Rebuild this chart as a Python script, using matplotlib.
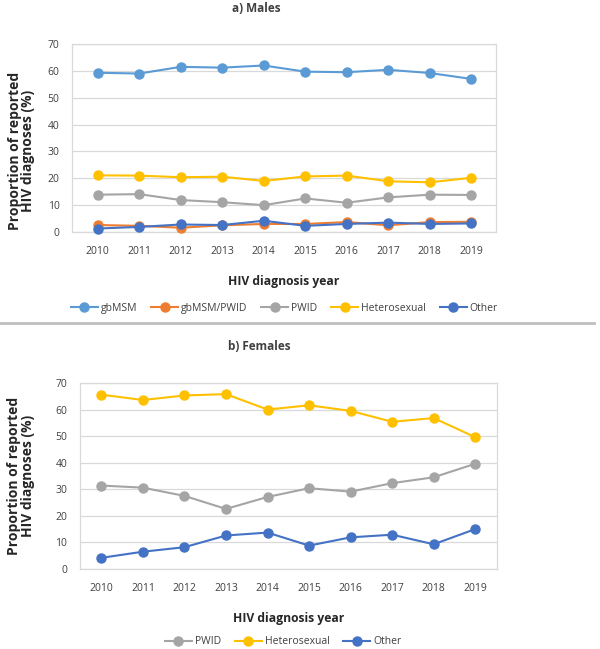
import matplotlib.pyplot as plt
from matplotlib.lines import Line2D

plt.rcParams['font.family'] = ['Open Sans', 'DejaVu Sans']

years = ['2010', '2011', '2012', '2013', '2014', '2015', '2016', '2017', '2018', '2019']

# a) Males
m_gbmsm = [59.3, 59.0, 61.5, 61.2, 62.0, 59.7, 59.5, 60.4, 59.2, 57.0]
m_gbmsm_pwid = [2.6, 2.3, 1.6, 2.5, 3.0, 3.0, 3.7, 2.5, 3.7, 3.8]
m_pwid = [13.9, 14.1, 11.9, 11.1, 10.0, 12.5, 10.9, 12.9, 13.9, 13.8]
m_hetero = [21.1, 21.0, 20.4, 20.6, 19.0, 20.7, 21.0, 18.9, 18.5, 20.2]
m_other = [1.3, 1.9, 2.8, 2.6, 4.2, 2.3, 3.0, 3.5, 3.0, 3.2]

# b) Females
f_pwid = [31.4, 30.6, 27.5, 22.6, 27.1, 30.4, 29.1, 32.3, 34.5, 39.6]
f_hetero = [65.6, 63.6, 65.3, 65.8, 60.0, 61.6, 59.5, 55.4, 56.8, 49.6]
f_other = [4.2, 6.5, 8.2, 12.6, 13.7, 8.8, 11.9, 12.9, 9.3, 15.0]

colors = {
    'gbMSM': '#5B9BD5',
    'gbMSM/PWID': '#ED7D31',
    'PWID': '#A5A5A5',
    'Heterosexual': '#FFC000',
    'Other': '#4472C4',
}

fig = plt.figure(figsize=(6, 6.49), dpi=100)


def draw_panel(ax, series, xlim, lab_xy):
    x = list(range(len(years)))
    for name, vals in series:
        ax.plot(x, vals, color=colors[name], marker='o', markersize=6.5,
                linewidth=1.5, label=name, clip_on=False, zorder=3)
    ax.set_ylim(0, 70)
    ax.set_yticks(range(0, 71, 10))
    ax.set_xlim(*xlim)
    ax.set_xticks(x)
    ax.set_xticklabels(years)
    ax.tick_params(length=0, labelsize=7.5, colors='#404040', pad=10)
    ax.tick_params(axis='y', pad=9)
    ax.grid(axis='y', color='#D9D9D9', linewidth=0.9)
    ax.set_axisbelow(True)
    for sp in ax.spines.values():
        sp.set_color('#D9D9D9')
        sp.set_linewidth(0.9)
    ax.set_ylabel('Proportion of reported\nHIV diagnoses (%)', fontsize=10,
                  fontweight='bold', linespacing=0.95, color='#262626')
    ax.yaxis.set_label_coords(*lab_xy)
    ax.set_xlabel('HIV diagnosis year', fontsize=8.7, fontweight='bold',
                  labelpad=13, color='#262626')


ax1 = fig.add_axes([0.12, 0.6425, 0.707, 0.2897])
draw_panel(ax1, [('gbMSM', m_gbmsm), ('gbMSM/PWID', m_gbmsm_pwid),
                 ('PWID', m_pwid), ('Heterosexual', m_hetero),
                 ('Other', m_other)], (-0.62, 9.6), (-0.087, 0.43))
fig.text(0.428, 1 - 8 / 649, 'a) Males', ha='center', va='center',
         fontsize=8.5, fontweight='bold', color='#404040')

ax2 = fig.add_axes([0.133, 0.1233, 0.695, 0.2866])
draw_panel(ax2, [('PWID', f_pwid), ('Heterosexual', f_hetero),
                 ('Other', f_other)], (-0.52, 9.52), (-0.108, 0.5))
fig.text(0.433, 1 - 346 / 649, 'b) Females', ha='center', va='center',
         fontsize=8.5, fontweight='bold', color='#404040')


def legend_handles(names):
    return [Line2D([0], [0], color=colors[n], marker='o', markersize=6.5,
                   linewidth=1.5) for n in names]


names1 = ['gbMSM', 'gbMSM/PWID', 'PWID', 'Heterosexual', 'Other']
fig.legend(legend_handles(names1), names1, loc='center',
           bbox_to_anchor=(0.474, 1 - 308 / 649), ncol=5, frameon=False,
           fontsize=7.5, handlelength=2.6, columnspacing=1.3,
           handletextpad=0.3, labelcolor='#404040')
names2 = ['PWID', 'Heterosexual', 'Other']
fig.legend(legend_handles(names2), names2, loc='center',
           bbox_to_anchor=(0.472, 1 - 642 / 649), ncol=3, frameon=False,
           fontsize=7.5, handlelength=2.6, columnspacing=1.3,
           handletextpad=0.3, labelcolor='#404040')

# separator between panels
fig.add_artist(Line2D([0, 0.99], [1 - 323 / 649] * 2, color='#BFBFBF',
                      linewidth=2, transform=fig.transFigure))

fig.savefig('out.png', dpi=100)
